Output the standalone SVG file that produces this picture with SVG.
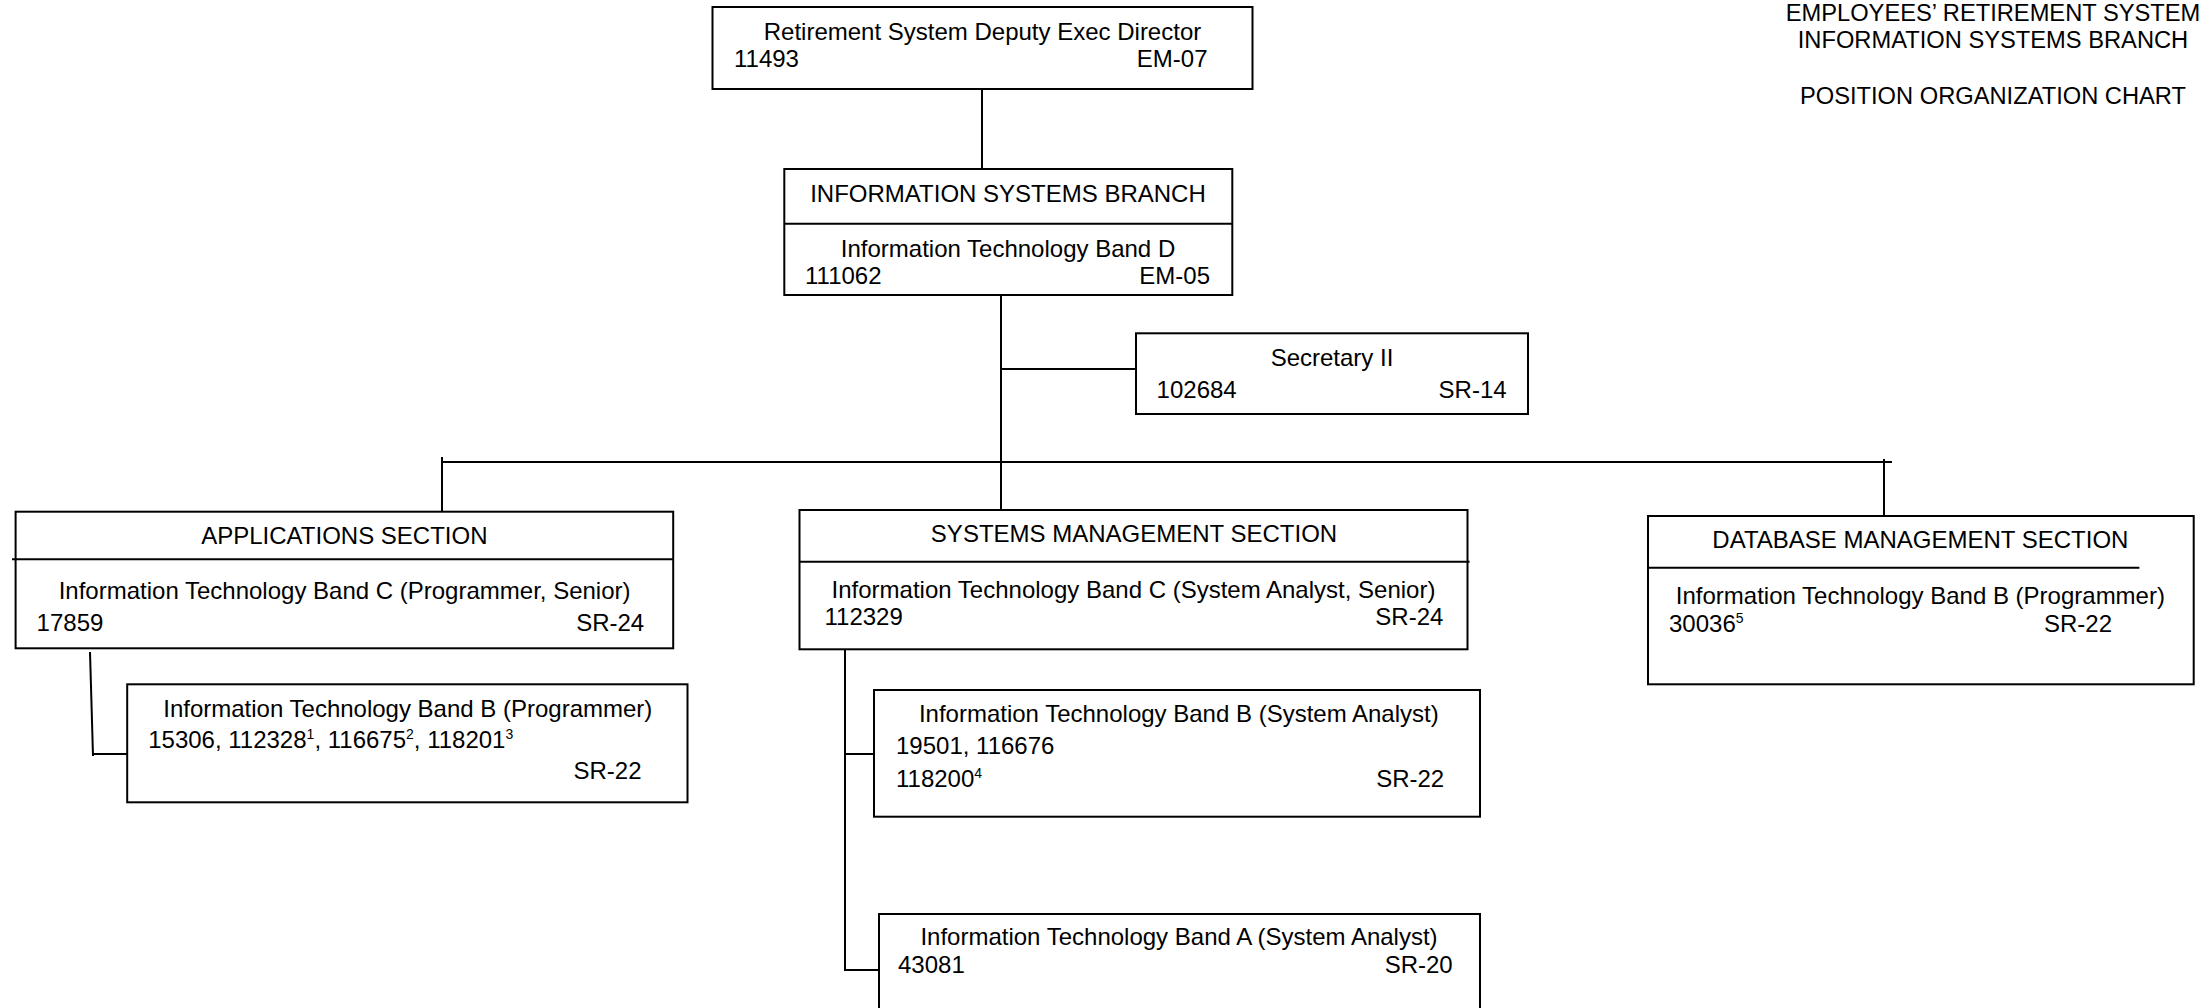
<svg xmlns="http://www.w3.org/2000/svg" width="2204" height="1008" viewBox="0 0 2204 1008">
<style>
text{font-family:"Liberation Sans",Arial,sans-serif;font-size:24px;fill:#000}
.t{font-size:23.7px}
.m{text-anchor:middle}
.e{text-anchor:end}
.box{fill:#fff;stroke:#000;stroke-width:2}
.ln{stroke:#000;stroke-width:2;fill:none}
.sup{font-size:14px}
</style>
<rect width="2204" height="1008" fill="#fff"/>
<g id="title">
<text class="m t" x="1993" y="21">EMPLOYEES’ RETIREMENT SYSTEM</text>
<text class="m t" x="1993" y="48">INFORMATION SYSTEMS BRANCH</text>
<text class="m t" x="1993" y="104">POSITION ORGANIZATION CHART</text>
</g>
<g id="connectors">
<line class="ln" x1="982" y1="89" x2="982" y2="170"/>
<line class="ln" x1="1001" y1="295" x2="1001" y2="510"/>
<line class="ln" x1="1000" y1="369" x2="1136" y2="369"/>
<line class="ln" x1="441" y1="462" x2="1892" y2="462"/>
<line class="ln" x1="442" y1="457" x2="442" y2="512"/>
<line class="ln" x1="1884" y1="459" x2="1884" y2="516"/>
<line class="ln" x1="90" y1="652" x2="93" y2="756"/>
<line class="ln" x1="92" y1="754" x2="127" y2="754"/>
<line class="ln" x1="845" y1="649" x2="845" y2="971"/>
<line class="ln" x1="844" y1="754" x2="874" y2="754"/>
<line class="ln" x1="844" y1="970" x2="879" y2="970"/>
</g>
<g id="exec">
<rect class="box" x="712.5" y="7" width="540" height="82"/>
<text class="m" x="982.5" y="40">Retirement System Deputy Exec Director</text>
<text x="734" y="67">11493</text>
<text class="e" x="1207.5" y="67">EM-07</text>
</g>
<g id="isb">
<rect class="box" x="784.3" y="169" width="448" height="126"/>
<line class="ln" x1="784.3" y1="223.7" x2="1232.3" y2="223.7"/>
<text class="m" x="1008" y="201.7">INFORMATION SYSTEMS BRANCH</text>
<text class="m" x="1008" y="256.7">Information Technology Band D</text>
<text x="805" y="284">111062</text>
<text class="e" x="1210" y="284">EM-05</text>
</g>
<g id="secretary">
<rect class="box" x="1136" y="333.3" width="392" height="80.7"/>
<text class="m" x="1332" y="365.7">Secretary II</text>
<text x="1156.6" y="397.7">102684</text>
<text class="e" x="1506.6" y="397.7">SR-14</text>
</g>
<g id="applications">
<rect class="box" x="15.6" y="511.7" width="657.6" height="136.6"/>
<line class="ln" x1="12" y1="559.3" x2="674" y2="559.3"/>
<text class="m" x="344.4" y="544">APPLICATIONS SECTION</text>
<text class="m" x="344.6" y="599.3">Information Technology Band C (Programmer, Senior)</text>
<text x="36.6" y="630.7">17859</text>
<text class="e" x="644.2" y="630.7">SR-24</text>
</g>
<g id="app-programmer">
<rect class="box" x="127.2" y="684.3" width="560.3" height="118"/>
<text class="m" x="407.8" y="716.7">Information Technology Band B (Programmer)</text>
<text x="148.2" y="748.3">15306, 112328<tspan class="sup" dy="-9">1</tspan><tspan dy="9">, 116675</tspan><tspan class="sup" dy="-9">2</tspan><tspan dy="9">, 118201</tspan><tspan class="sup" dy="-9">3</tspan></text>
<text class="e" x="641.5" y="779.3">SR-22</text>
</g>
<g id="systems-management">
<rect class="box" x="799.5" y="510" width="668" height="139.3"/>
<line class="ln" x1="799.5" y1="561.7" x2="1469.6" y2="561.7"/>
<text class="m" x="1134" y="541.7">SYSTEMS MANAGEMENT SECTION</text>
<text class="m" x="1133.5" y="598.3">Information Technology Band C (System Analyst, Senior)</text>
<text x="824.5" y="625">112329</text>
<text class="e" x="1443.4" y="625">SR-24</text>
</g>
<g id="sm-analyst-b">
<rect class="box" x="874" y="690" width="606" height="126.7"/>
<text class="m" x="1178.8" y="721.7">Information Technology Band B (System Analyst)</text>
<text x="896" y="754.3">19501, 116676</text>
<text x="896" y="786.7">118200<tspan class="sup" dy="-9">4</tspan></text>
<text class="e" x="1444.2" y="786.7">SR-22</text>
</g>
<g id="sm-analyst-a">
<rect class="box" x="879" y="914" width="601" height="120"/>
<text class="m" x="1179" y="945">Information Technology Band A (System Analyst)</text>
<text x="898" y="973.3">43081</text>
<text class="e" x="1452.7" y="973.3">SR-20</text>
</g>
<g id="database-management">
<rect class="box" x="1648" y="516" width="545.7" height="168.3"/>
<line class="ln" x1="1648" y1="567.7" x2="2139.4" y2="567.7"/>
<text class="m" x="1920.4" y="548.3">DATABASE MANAGEMENT SECTION</text>
<text class="m" x="1920.4" y="604">Information Technology Band B (Programmer)</text>
<text x="1669" y="631.7">30036<tspan class="sup" dy="-9">5</tspan></text>
<text class="e" x="2112" y="631.7">SR-22</text>
</g>
</svg>
